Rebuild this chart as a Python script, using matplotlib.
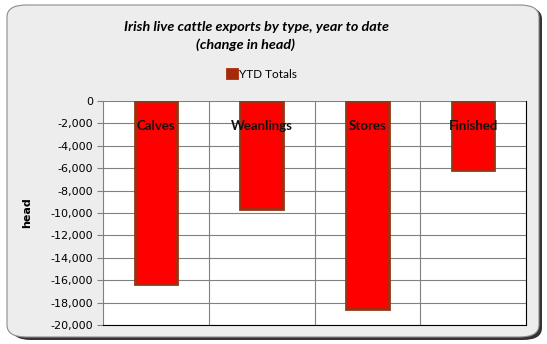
import numpy as np
import matplotlib
matplotlib.use("Agg")
import matplotlib.pyplot as plt
from matplotlib.patches import FancyBboxPatch

# values
categories = ["Calves", "Weanlings", "Stores", "Finished"]
ytd_totals = [-16300, -9650, -18600, -6200]
yticks = list(range(0, -20001, -2000))

W, H = 547, 344
fig = plt.figure(figsize=(W / 100, H / 100), dpi=100)
fig.patch.set_facecolor("white")

# rounded chart frame with a dark shadow on the right / bottom
shadow = FancyBboxPatch((12 / W, 4 / H), 530 / W, 333 / H,
                        boxstyle="round,pad=0,rounding_size=0.035",
                        transform=fig.transFigure, facecolor="#333333",
                        edgecolor="none", zorder=-2)
frame = FancyBboxPatch((7 / W, 7 / H), 532 / W, 332 / H,
                       boxstyle="round,pad=0,rounding_size=0.035",
                       transform=fig.transFigure, facecolor="#EDEDED",
                       edgecolor="#8C8C8C", linewidth=0.8, zorder=-1)
fig.patches.extend([shadow, frame])

ax = fig.add_axes([103 / W, 19 / H, 423 / W, 224 / H])
ax.set_zorder(2)
ax.set_facecolor("white")

x = np.arange(len(categories))
bars = ax.bar(x, ytd_totals, width=0.4, color="#FF0000",
              edgecolor="#993311", linewidth=2, zorder=3, label="YTD Totals")

ax.set_xlim(-0.5, len(categories) - 0.5)
ax.set_ylim(-20000, 0)
ax.set_yticks(yticks)
ax.set_yticklabels(["{:,}".format(v) for v in yticks], fontsize=8)
ax.set_xticks([])

# grid: horizontal every 2000, vertical between categories
for v in yticks:
    ax.axhline(v, color="#808080", lw=0.8, zorder=1)
for b in np.arange(0.5, len(categories) - 0.5, 1):
    ax.axvline(b, color="#808080", lw=0.8, zorder=1)

ax.spines["top"].set_visible(False)
ax.spines["left"].set_color("#808080")
ax.spines["bottom"].set_color("black")
ax.spines["right"].set_color("black")
ax.tick_params(axis="y", length=4, color="#808080", pad=3)

# category labels drawn inside the plot near the top
for i, c in enumerate(categories):
    ax.text(i, -2250, c, ha="center", va="center", fontsize=9.5,
            fontweight="bold", family="Lato", color="#111111", zorder=4)

ax.set_ylabel("head", fontsize=8, fontweight="bold")
ax.yaxis.set_label_coords(-0.168, 0.5)

fig.text(256 / W, 1 - 27 / H, "Irish live cattle exports by type, year to date",
         ha="center", va="center", fontsize=10.4, style="italic",
         fontweight="bold", family="Lato")
fig.text(246 / W, 1 - 45 / H, "(change in head)", ha="center", va="center",
         fontsize=10.4, style="italic", fontweight="bold", family="Lato")

leg = fig.legend(handles=[bars], labels=["YTD Totals"], loc="center",
                 bbox_to_anchor=(262 / W, 1 - 74 / H), frameon=False,
                 handlelength=0.8, handleheight=0.8, handletextpad=0.2,
                 prop={"family": "Lato", "size": 8.5})
for p in leg.get_patches():
    p.set_facecolor("#A52A0A")
    p.set_edgecolor("#A52A0A")

fig.savefig("out.png", dpi=100)
